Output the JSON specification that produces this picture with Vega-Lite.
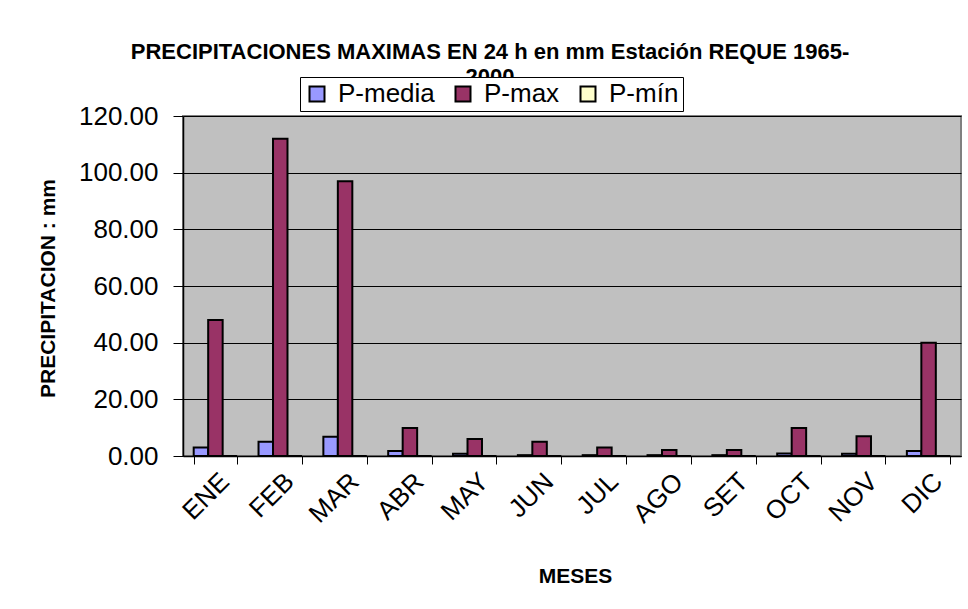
{
  "$schema": "https://vega.github.io/schema/vega-lite/v6.json",
  "autosize": {"type": "none"},
  "width": 778,
  "height": 340,
  "padding": {"left": 183, "top": 116, "right": 7, "bottom": 153},
  "background": "white",
  "title": {
    "text": ["PRECIPITACIONES MAXIMAS EN 24 h  en mm  Estación REQUE 1965-", "2000"],
    "font": "Liberation Sans",
    "fontSize": 22,
    "fontWeight": "bold",
    "color": "black",
    "anchor": "middle",
    "dx": -82,
    "dy": 22,
    "offset": 10,
    "lineHeight": 25,
    "zindex": 0
  },
  "data": {
    "values": [
      {"mes": "ENE", "serie": "P-media", "valor": 3.0},
      {"mes": "ENE", "serie": "P-max", "valor": 48.0},
      {"mes": "ENE", "serie": "P-mín", "valor": 0},
      {"mes": "FEB", "serie": "P-media", "valor": 5.0},
      {"mes": "FEB", "serie": "P-max", "valor": 112.0},
      {"mes": "FEB", "serie": "P-mín", "valor": 0},
      {"mes": "MAR", "serie": "P-media", "valor": 6.8},
      {"mes": "MAR", "serie": "P-max", "valor": 97.0},
      {"mes": "MAR", "serie": "P-mín", "valor": 0},
      {"mes": "ABR", "serie": "P-media", "valor": 1.8},
      {"mes": "ABR", "serie": "P-max", "valor": 9.9},
      {"mes": "ABR", "serie": "P-mín", "valor": 0},
      {"mes": "MAY", "serie": "P-media", "valor": 0.8},
      {"mes": "MAY", "serie": "P-max", "valor": 6.0},
      {"mes": "MAY", "serie": "P-mín", "valor": 0},
      {"mes": "JUN", "serie": "P-media", "valor": 0.3},
      {"mes": "JUN", "serie": "P-max", "valor": 5.0},
      {"mes": "JUN", "serie": "P-mín", "valor": 0},
      {"mes": "JUL", "serie": "P-media", "valor": 0.3},
      {"mes": "JUL", "serie": "P-max", "valor": 3.0},
      {"mes": "JUL", "serie": "P-mín", "valor": 0},
      {"mes": "AGO", "serie": "P-media", "valor": 0.3},
      {"mes": "AGO", "serie": "P-max", "valor": 2.1},
      {"mes": "AGO", "serie": "P-mín", "valor": 0},
      {"mes": "SET", "serie": "P-media", "valor": 0.3},
      {"mes": "SET", "serie": "P-max", "valor": 2.1},
      {"mes": "SET", "serie": "P-mín", "valor": 0},
      {"mes": "OCT", "serie": "P-media", "valor": 0.9},
      {"mes": "OCT", "serie": "P-max", "valor": 9.9},
      {"mes": "OCT", "serie": "P-mín", "valor": 0},
      {"mes": "NOV", "serie": "P-media", "valor": 0.8},
      {"mes": "NOV", "serie": "P-max", "valor": 7.0},
      {"mes": "NOV", "serie": "P-mín", "valor": 0},
      {"mes": "DIC", "serie": "P-media", "valor": 1.8},
      {"mes": "DIC", "serie": "P-max", "valor": 40.0},
      {"mes": "DIC", "serie": "P-mín", "valor": 0}
    ]
  },
  "mark": {"type": "bar", "stroke": "black", "strokeWidth": 2},
  "encoding": {
    "x": {
      "field": "mes",
      "type": "nominal",
      "sort": ["ENE", "FEB", "MAR", "ABR", "MAY", "JUN", "JUL", "AGO", "SET", "OCT", "NOV", "DIC"],
      "scale": {"paddingInner": 0.33, "paddingOuter": 0.165},
      "axis": {
        "title": "MESES",
        "titleFont": "Liberation Sans",
        "titleFontSize": 21,
        "titleFontWeight": "bold",
        "titleColor": "black",
        "titleX": 392,
        "titleY": 120,
        "titleBaseline": "middle",
        "titleAlign": "center",
        "labelAngle": -45,
        "labelFont": "Liberation Sans",
        "labelFontSize": 26,
        "labelColor": "black",
        "labelPadding": 4,
        "tickBand": "extent",
        "tickColor": "black",
        "tickSize": 8,
        "domainColor": "black",
        "domainWidth": 1.5,
        "grid": false
      }
    },
    "xOffset": {
      "field": "serie",
      "type": "nominal",
      "sort": ["P-media", "P-max", "P-mín"],
      "scale": {"paddingInner": 0, "paddingOuter": 0}
    },
    "y": {
      "field": "valor",
      "type": "quantitative",
      "scale": {"domain": [0, 120], "nice": false},
      "axis": {
        "title": "PRECIPITACION : mm",
        "titleFont": "Liberation Sans",
        "titleFontSize": 21,
        "titleFontWeight": "bold",
        "titleColor": "black",
        "titleX": -135,
        "titleY": 172,
        "titleAlign": "center",
        "titleBaseline": "middle",
        "values": [0, 20, 40, 60, 80, 100, 120],
        "format": ".2f",
        "labelFont": "Liberation Sans",
        "labelFontSize": 26,
        "labelColor": "black",
        "labelPadding": 15,
        "tickColor": "black",
        "tickSize": 10,
        "domainColor": "black",
        "domainWidth": 1.5,
        "grid": true,
        "gridColor": "black",
        "gridWidth": 1
      }
    },
    "color": {
      "field": "serie",
      "type": "nominal",
      "sort": ["P-media", "P-max", "P-mín"],
      "scale": {"domain": ["P-media", "P-max", "P-mín"], "range": ["#9999FF", "#993366", "#FFFFCC"]},
      "legend": {
        "title": null,
        "orient": "none",
        "legendX": 117,
        "legendY": -39,
        "direction": "horizontal",
        "symbolType": "square",
        "symbolSize": 225,
        "symbolStrokeColor": "black",
        "symbolStrokeWidth": 2,
        "symbolOpacity": 1,
        "labelFont": "Liberation Sans",
        "labelFontSize": 26,
        "labelColor": "black",
        "labelOffset": 8,
        "columnPadding": 15,
        "strokeColor": "black",
        "fillColor": "white",
        "padding": 4,
        "zindex": 2
      }
    }
  },
  "config": {
    "view": {"fill": "#C0C0C0", "stroke": "#808080", "strokeWidth": 2},
    "axis": {"labelOverlap": false}
  }
}
